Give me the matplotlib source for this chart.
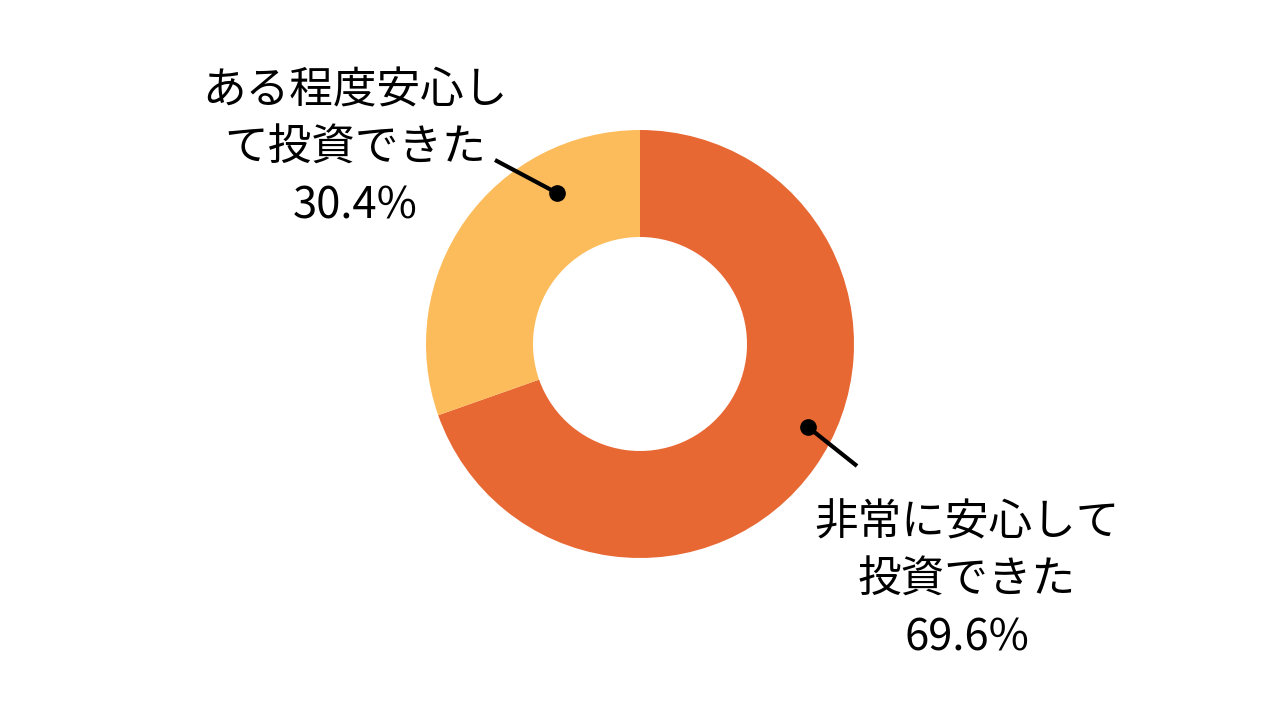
import matplotlib
matplotlib.use("Agg")
import matplotlib.pyplot as plt

plt.rcParams['font.family'] = ['Noto Sans CJK JP', 'DejaVu Sans']

labels = ["非常に安心して\n投資できた", "ある程度安心し\nて投資できた"]
values = [69.6, 30.4]
colors = ["#E86833", "#FDBC5B"]

fig = plt.figure(figsize=(12.8, 7.2), dpi=100)
ax = fig.add_axes([0, 0, 1, 1])
ax.set_xlim(0, 1280)
ax.set_ylim(0, 720)
ax.set_aspect('equal')
ax.axis('off')

ax.pie(values, colors=colors, startangle=90, counterclock=False,
       center=(640, 376), radius=214,
       wedgeprops=dict(width=107, linewidth=0))
ax.set_xlim(0, 1280)
ax.set_ylim(0, 720)

# annotations
texts = [f"{labels[0]}\n{values[0]:.1f}%", f"{labels[1]}\n{values[1]:.1f}%"]
# right (orange)
ax.plot([808, 857], [293, 254], color='black', lw=3, solid_capstyle='butt')
ax.plot([808], [293], 'o', color='black', ms=11)
ax.text(967, 139, texts[0], ha='center', va='center', fontsize=31.4, linespacing=1.39)
# left (yellow)
ax.plot([557, 495], [527, 560], color='black', lw=3, solid_capstyle='butt')
ax.plot([557], [527], 'o', color='black', ms=11)
ax.text(355, 571, texts[1], ha='center', va='center', fontsize=31.4, linespacing=1.39)

fig.savefig("out.png", dpi=100)
